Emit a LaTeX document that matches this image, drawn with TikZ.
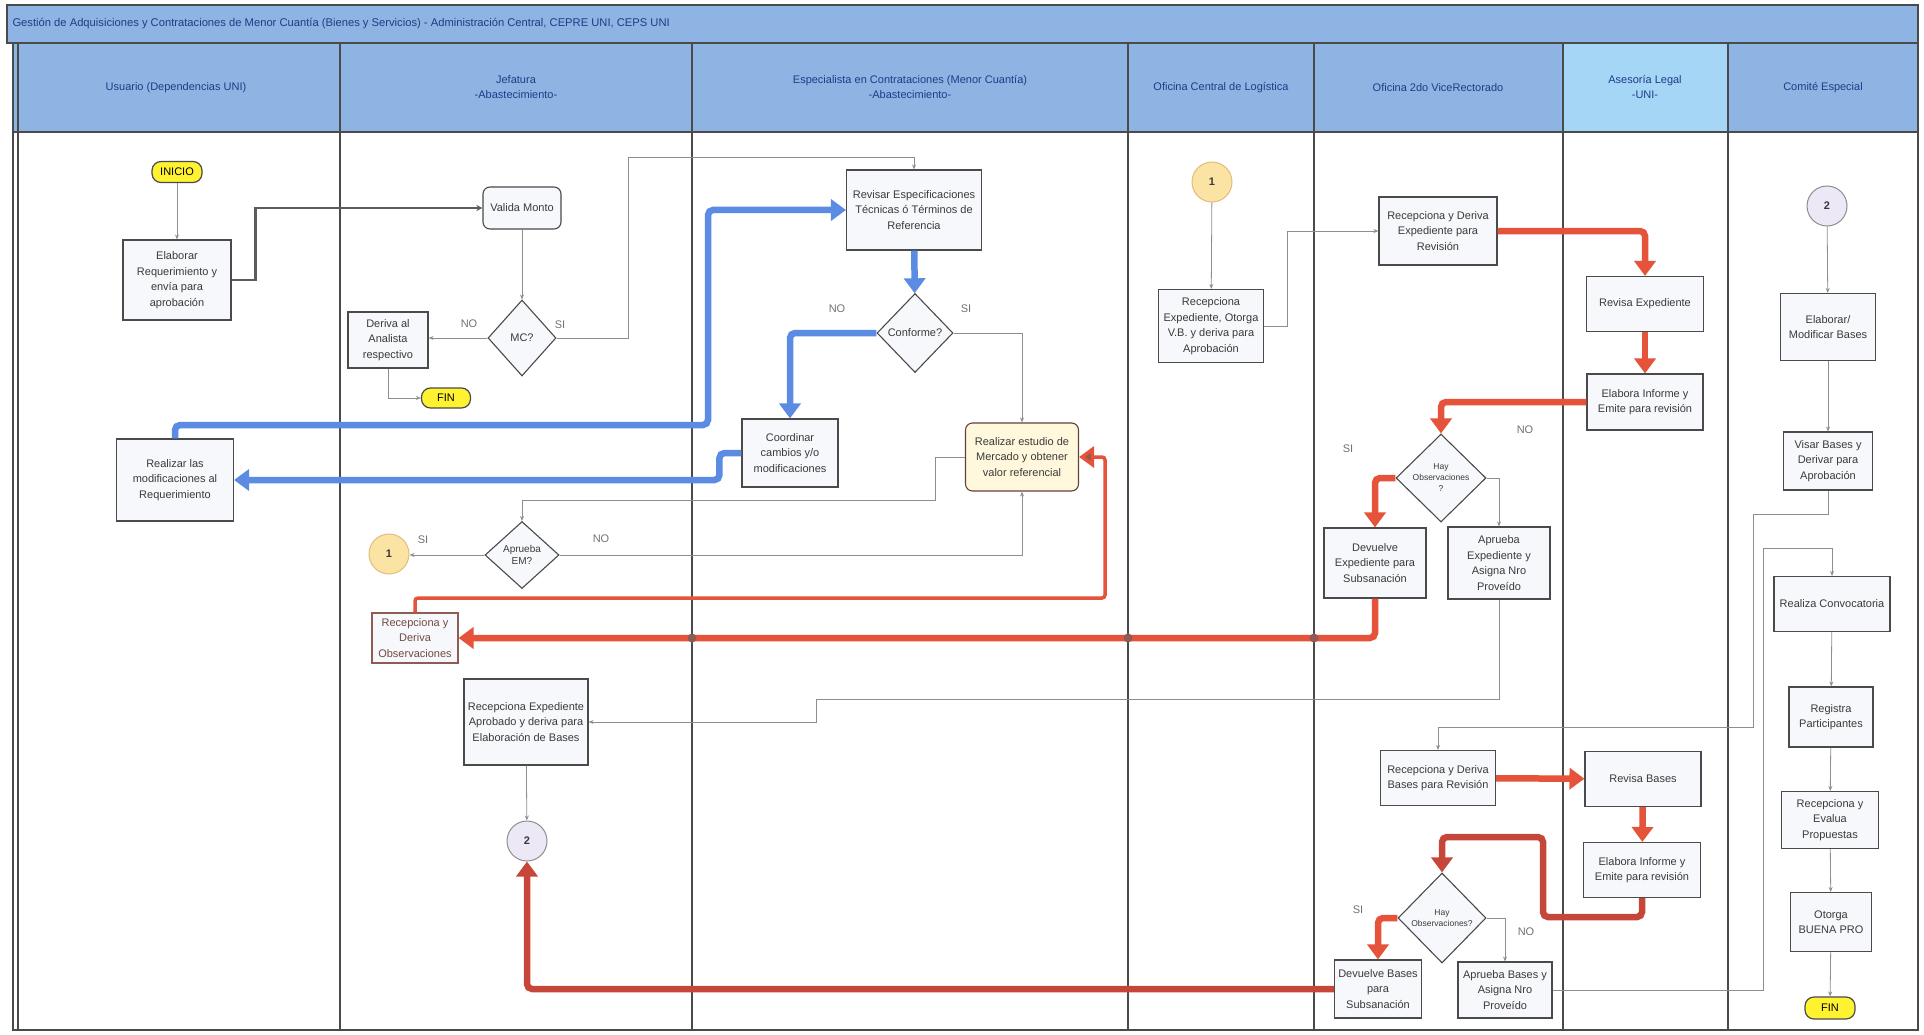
\documentclass[tikz,border=0pt]{standalone}
\usepackage{fontspec}
\setmainfont{Liberation Sans}
\usetikzlibrary{arrows.meta,shapes.geometric}

\definecolor{cabecera}{HTML}{8DB4E2}
\definecolor{cabeceraclara}{HTML}{A6D6F6}
\definecolor{titulo}{HTML}{1F3C88}
\definecolor{borde}{HTML}{4A4A4A}
\definecolor{fondo}{HTML}{F7F8FB}
\definecolor{texto}{HTML}{3A3A3A}
\definecolor{linea}{HTML}{8E8E8E}
\definecolor{azulflujo}{HTML}{5B8BE2}
\definecolor{rojoflujo}{HTML}{E4533A}
\definecolor{rojooscuro}{HTML}{C6463A}
\definecolor{marron}{HTML}{8E5C52}
\definecolor{amarillo}{HTML}{FFF230}
\definecolor{crema}{HTML}{FFF8DC}
\definecolor{uno}{HTML}{FBE3A4}
\definecolor{dos}{HTML}{ECE8F5}

\newcommand{\letra}{\fontsize{11}{15.5}\selectfont}

\begin{document}
\begin{tikzpicture}[x=1pt,y=-1pt,
    caja/.style={draw=borde, fill=fondo, line width=1.1pt, align=center, text=texto, font=\letra, inner sep=1pt},
    redonda/.style={caja, rounded corners=7pt},
    terminal/.style={draw=borde, fill=amarillo, line width=1.2pt, rounded corners=9pt, font=\letra, inner sep=1pt},
    decision/.style={diamond, draw=borde, fill=fondo, line width=1.1pt, align=center, text=texto, font=\letra, inner sep=0pt},
    conector/.style={circle, draw, line width=1pt, minimum size=40pt, inner sep=0pt, font=\letra\bfseries, text=texto},
    cab/.style={align=center, text=titulo, font=\letra},
    etiq/.style={text=linea!80!black, font=\letra},
    carril/.style={draw=borde, line width=1.1pt},
    fino/.style={draw=linea, line width=0.8pt, -{Stealth[length=5pt,width=4pt]}},
    grueso/.style={draw=borde!90, line width=2.2pt, -{Stealth[length=6pt,width=6pt]}},
    azul/.style={draw=azulflujo, line width=6.5pt, rounded corners=5pt, -{Triangle[length=15pt,width=21pt]}},
    rojo/.style={draw=rojoflujo, line width=6.5pt, rounded corners=5pt, -{Triangle[length=15pt,width=21pt]}},
    rojoosc/.style={draw=rojooscuro, line width=6.5pt, rounded corners=5pt, -{Triangle[length=15pt,width=21pt]}},
    rojofino/.style={draw=rojoflujo, line width=3.5pt, rounded corners=3pt, -{Triangle[length=15pt,width=21pt,fill=marron]}}
  ]
  \useasboundingbox (0,0) rectangle (1924,1035);

  % Cabeceras
  \fill[cabecera] (7,5) rectangle (1918,43);
  \fill[cabecera] (13,43) rectangle (1918,132);
  \fill[cabeceraclara] (1563,43) rectangle (1728,132);
  \draw[carril] (7,5) rectangle (1918,43);
  \node[anchor=west, text=titulo, font=\fontsize{11.2}{13}\selectfont] (titulo) at (9,24)
    {Gestión de Adquisiciones y Contrataciones de Menor Cuantía (Bienes y Servicios) - Administración Central, CEPRE UNI, CEPS UNI};

  % Carriles
  \draw[carril] (13,43) rectangle (1918,1030);
  \draw[carril] (18,43) -- (18,1030);
  \draw[carril] (13,132) -- (1918,132);
  \foreach \x in {340,692,1128,1314,1563,1728}
    \draw[carril] (\x,43) -- (\x,1030);

  \node[cab] (hu) at (176,88) {Usuario (Dependencias UNI)};
  \node[cab] (hj) at (516,87) {Jefatura\\-Abastecimiento-};
  \node[cab] (he) at (910,87) {Especialista en Contrataciones (Menor Cuantía)\\-Abastecimiento-};
  \node[cab] (hl) at (1221,88) {Oficina Central de Logística};
  \node[cab] (hv) at (1438,88) {Oficina 2do ViceRectorado};
  \node[cab] (ha) at (1645,87) {Asesoría Legal\\-UNI-};
  \node[cab] (hc) at (1823,88) {Comité Especial};

  % Usuario
  \node[terminal, minimum width=50pt, minimum height=21pt] (inicio) at (177,172) {INICIO};
  \node[caja, minimum width=108pt, minimum height=80pt] (elab) at (177,280) {Elaborar\\Requerimiento y\\envía para\\aprobación};
  \node[caja, minimum width=117pt, minimum height=82pt] (realizar) at (175,480) {Realizar las\\modificaciones al\\Requerimiento};

  % Jefatura
  \node[redonda, minimum width=78pt, minimum height=42pt] (valida) at (522,208) {Valida Monto};
  \node[decision, minimum width=68pt, minimum height=76pt] (mc) at (522,338) {MC?};
  \node[caja, minimum width=80pt, minimum height=56pt] (deriva) at (388,340) {Deriva al\\Analista\\respectivo};
  \node[terminal, minimum width=49pt, minimum height=20pt] (fin1) at (446,398) {FIN};
  \node[conector, draw=uno!60!brown, fill=uno] (c1a) at (389,554) {1};
  \node[decision, minimum width=74pt, minimum height=67pt, font=\fontsize{10}{12}\selectfont] (em) at (522,555) {Aprueba\\EM?};
  \node[caja, draw=marron, text=marron!80!black, minimum width=86pt, minimum height=50pt] (obs) at (415,638) {Recepciona y\\Deriva\\Observaciones};
  \node[caja, minimum width=124pt, minimum height=86pt] (recap) at (526,722) {Recepciona Expediente\\Aprobado y deriva para\\Elaboración de Bases};
  \node[conector, draw=linea, fill=dos] (c2a) at (527,841) {2};

  % Especialista
  \node[caja, minimum width=135pt, minimum height=80pt] (revisar) at (914,210) {Revisar Especificaciones\\Técnicas ó Términos de\\Referencia};
  \node[decision, minimum width=76pt, minimum height=79pt] (conforme) at (915,333) {Conforme?};
  \node[caja, minimum width=96pt, minimum height=68pt] (coord) at (790,453) {Coordinar\\cambios y/o\\modificaciones};
  \node[redonda, fill=crema, draw=marron!70!black, minimum width=113pt, minimum height=68pt] (estudio) at (1022,457) {Realizar estudio de\\Mercado y obtener\\valor referencial};

  % Logistica
  \node[conector, draw=uno!60!brown, fill=uno] (c1b) at (1212,182) {1};
  \node[caja, minimum width=105pt, minimum height=73pt] (recvb) at (1211,326) {Recepciona\\Expediente, Otorga\\V.B. y deriva para\\Aprobación};

  % ViceRectorado
  \node[caja, minimum width=118pt, minimum height=68pt] (recder) at (1438,231) {Recepciona y Deriva\\Expediente para\\Revisión};
  \node[decision, minimum width=90pt, minimum height=88pt, font=\fontsize{8.5}{11}\selectfont] (hay1) at (1441,478) {Hay\\Observaciones\\?};
  \node[caja, minimum width=102pt, minimum height=70pt] (devexp) at (1375,563) {Devuelve\\Expediente para\\Subsanación};
  \node[caja, minimum width=102pt, minimum height=72pt] (apexp) at (1499,563) {Aprueba\\Expediente y\\Asigna Nro\\Proveído};
  \node[caja, minimum width=115pt, minimum height=55pt] (recbases) at (1438,778) {Recepciona y Deriva\\Bases para Revisión};
  \node[decision, minimum width=88pt, minimum height=90pt, font=\fontsize{8.5}{11}\selectfont] (hay2) at (1442,918) {Hay\\Observaciones?};
  \node[caja, minimum width=87pt, minimum height=58pt] (devbases) at (1378,989) {Devuelve Bases\\para\\Subsanación};
  \node[caja, minimum width=94pt, minimum height=56pt] (apbases) at (1505,990) {Aprueba Bases y\\Asigna Nro\\Proveído};

  % Asesoria
  \node[caja, minimum width=117pt, minimum height=55pt] (revexp) at (1645,304) {Revisa Expediente};
  \node[caja, minimum width=116pt, minimum height=56pt] (elabinf) at (1645,402) {Elabora Informe y\\Emite para revisión};
  \node[caja, minimum width=116pt, minimum height=55pt] (revbases) at (1643,779) {Revisa Bases};
  \node[caja, minimum width=117pt, minimum height=55pt] (elabinf2) at (1642,870) {Elabora Informe y\\Emite para revisión};

  % Comite
  \node[conector, draw=linea, fill=dos] (c2b) at (1827,206) {2};
  \node[caja, minimum width=95pt, minimum height=67pt] (elabbases) at (1828,327) {Elaborar/\\Modificar Bases};
  \node[caja, minimum width=89pt, minimum height=58pt] (visar) at (1828,461) {Visar Bases y\\Derivar para\\Aprobación};
  \node[caja, minimum width=116pt, minimum height=55pt] (convoc) at (1832,604) {Realiza Convocatoria};
  \node[caja, minimum width=84pt, minimum height=60pt] (registra) at (1831,717) {Registra\\Participantes};
  \node[caja, minimum width=97pt, minimum height=57pt] (recev) at (1830,820) {Recepciona y\\Evalua\\Propuestas};
  \node[caja, minimum width=81pt, minimum height=59pt] (otorga) at (1831,922) {Otorga\\BUENA PRO};
  \node[terminal, minimum width=50pt, minimum height=22pt] (fin2) at (1830,1008) {FIN};

  % Conexiones finas
  \draw[fino] (inicio) -- (elab);
  \draw[grueso] (elab.east) -- ++(24,0) |- (valida.west);
  \draw[fino] (valida) -- (mc);
  \draw[fino] (mc.west) -- (mc.west -| deriva.east);
  \draw[fino] (deriva.south) |- (fin1.west);
  \draw[fino] (mc.east) -| (628,157) -| (revisar.north);
  \draw[fino] (conforme.east) -| (estudio.north);
  \draw[fino] (estudio.west) -| (935,500) -| (em.north);
  \draw[fino] (em.west) -- (em.west -| c1a.east);
  \draw[fino] (em.east) -| (estudio.south);
  \draw[fino] (c1b) -- (recvb);
  \draw[fino] (recvb.east) -- ++(23,0) |- (recder.west);
  \draw[fino] (hay1.east) -| (apexp.north);
  \draw[fino] (apexp.south) |- (816,699) |- (recap.east);
  \draw[fino] (recap) -- (c2a);
  \draw[fino] (c2b) -- (elabbases);
  \draw[fino] (elabbases) -- (visar);
  \draw[fino] (visar.south) |- (1753,514) |- (1438,727) -- (recbases.north);
  \draw[fino] (hay2.east) -| (apbases.north);
  \draw[fino] (apbases.east) -| (1763,548) -| (convoc.north);
  \draw[fino] (convoc) -- (registra);
  \draw[fino] (registra) -- (recev);
  \draw[fino] (recev) -- (otorga);
  \draw[fino] (otorga) -- (fin2);

  % Flujo azul
  \draw[azul] (revisar) -- (conforme);
  \draw[azul] (conforme.west) -| (coord.north);
  \draw[azul] (coord.west) -- ++(-22,0) |- (realizar.east);
  \draw[azul] (realizar.north) |- (708,425) |- (revisar.west);

  % Flujo rojo
  \draw[rojo] (recder.east) -| (revexp.north);
  \draw[rojo] (revexp) -- (elabinf);
  \draw[rojo] (elabinf.west) -| (hay1.north);
  \draw[rojo] (hay1.west) -| (devexp.north);
  \draw[rojo] (devexp.south) |- (obs.east);
  \draw[rojofino] (obs.north) |- (1105,598) |- (estudio.east);
  \draw[rojo] (recbases) -- (revbases);
  \draw[rojo] (revbases) -- (elabinf2);
  \draw[rojoosc] (elabinf2.south) -- ++(0,19) -| (1543,837) -| (hay2.north);
  \draw[rojo] (hay2.west) -| (devbases.north);
  \draw[rojoosc] (devbases.west) -| (c2a.south);
  \foreach \x in {692,1128,1314}
    \fill[marron] (\x,638) circle (4.5pt);

  % Etiquetas
  \node[etiq] (no1) at (469,324) {NO};
  \node[etiq] (si1) at (560,325) {SI};
  \node[etiq] (no2) at (837,309) {NO};
  \node[etiq] (si2) at (966,309) {SI};
  \node[etiq] (si3) at (423,540) {SI};
  \node[etiq] (no3) at (601,539) {NO};
  \node[etiq] (si4) at (1348,449) {SI};
  \node[etiq] (no4) at (1525,430) {NO};
  \node[etiq] (si5) at (1358,910) {SI};
  \node[etiq] (no5) at (1526,932) {NO};
\end{tikzpicture}
\end{document}
